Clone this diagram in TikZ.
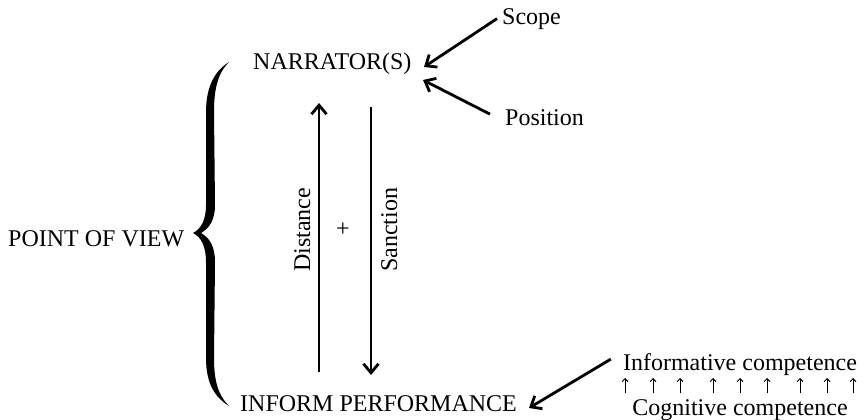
\documentclass[tikz,border=0pt]{standalone}
\usepackage{fontspec}
\setmainfont{Liberation Serif}
\usetikzlibrary{arrows.meta}
\begin{document}
\begin{tikzpicture}[x=1pt,y=-1pt,
  lbl/.style={inner sep=0pt,font=\fontsize{24}{28}\selectfont},
  bigarrow/.style={line width=2.8pt,-{Straight Barb[length=9pt,width=15pt,line width=2.8pt]}},
  tinyarrow/.style={line width=0.9pt,-{Straight Barb[length=3pt,width=6pt,line width=0.9pt]}}]
\useasboundingbox (0,0) rectangle (865,420);

% labels
\node[lbl,anchor=base west] (narr) at (253,70) {NARRATOR(S)};
\node[lbl,anchor=base west] (scope) at (502,25) {Scope};
\node[lbl,anchor=base west] (pos) at (505,125) {Position};
\node[lbl,anchor=base west] (pov) at (8,246) {POINT OF VIEW};
\node[lbl,anchor=base west] (inform) at (240,411) {INFORM PERFORMANCE};
\node[lbl,anchor=base] (infc) at (740,370) {Informative competence};
\node[lbl,anchor=base] (cogc) at (740,415) {Cognitive competence};
\node[lbl,anchor=base,rotate=90] (dist) at (310,230) {Distance};
\node[lbl,anchor=base,rotate=90] (sanc) at (397,230) {Sanction};
\node[lbl] (plus) at (343,230) {+};

% arrow ends
\coordinate (nS) at (424,67);
\coordinate (nP) at (423,80);
\coordinate (iP) at (529,408);
\coordinate (dBot) at (319,372);
\coordinate (dTop) at (319,103);
\coordinate (sTop) at (371,107);
\coordinate (sBot) at (371,375);

\draw[bigarrow] (scope.west) ++(-5,-1) coordinate (sA) (sA) -- (nS);
\draw[bigarrow] (pos.west) ++(-15,-3) coordinate (pA) (pA) -- (nP);
\draw[bigarrow] (infc.west) ++(-12,-5) coordinate (iA) (iA) -- (iP);
\draw[bigarrow] (dBot) -- (dTop);
\draw[bigarrow] (sTop) -- (sBot);

% row of small upward arrows
\foreach \x in {625,653,680,713,740,767,800,827,853}
  \draw[tinyarrow] (\x,393) -- (\x,378);

% curly brace
\fill (229,62)
  .. controls (216,70) and (206,85) .. (206,112)
  -- (206,205)
  .. controls (206,220) and (201,229) .. (193,233)
  .. controls (201,237) and (206,246) .. (206,262)
  -- (206,358)
  .. controls (206,385) and (216,398) .. (229,406)
  .. controls (219,396) and (214,383) .. (214,358)
  -- (215,262)
  .. controls (215,247) and (210,238) .. (201,233)
  .. controls (210,228) and (215,219) .. (215,205)
  -- (214,112)
  .. controls (214,86) and (219,72) .. (229,62) -- cycle;
\end{tikzpicture}
\end{document}
